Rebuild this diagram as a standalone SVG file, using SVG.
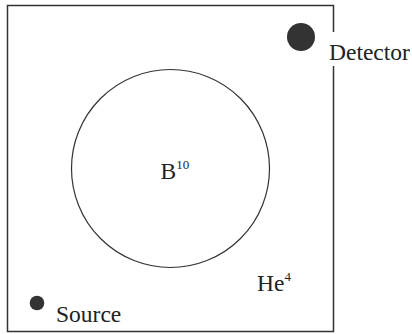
<svg xmlns="http://www.w3.org/2000/svg" width="412" height="334" viewBox="0 0 412 334">
<style>
.t{font-family:"Liberation Serif","Times New Roman",serif;font-size:23.5px;fill:#222}
.s{font-size:13px}
.frame{fill:none;stroke:#333;stroke-width:1.5}
.ball{fill:#333}
</style>
<rect width="412" height="334" fill="#fff"/>
<g id="chamber">
<path class="frame" d="M333.5,32 V5.5 H7.5 V331.5 H333.5 V66"/>
</g>
<g id="boron">
<circle cx="170.5" cy="168.5" r="99" fill="none" stroke="#333" stroke-width="1.2"/>
<text class="t" x="160.5" y="178.5">B<tspan class="s" dy="-9.5">10</tspan></text>
</g>
<g id="helium">
<text class="t" x="257" y="291">He<tspan class="s" dy="-10.5">4</tspan></text>
</g>
<g id="detector">
<circle class="ball" cx="301" cy="37" r="14"/>
<text class="t" x="329" y="60">Detector</text>
</g>
<g id="source">
<circle class="ball" cx="37" cy="303" r="7.3"/>
<text class="t" x="56" y="321.7">Source</text>
</g>
<g id="connectors"></g>
</svg>
